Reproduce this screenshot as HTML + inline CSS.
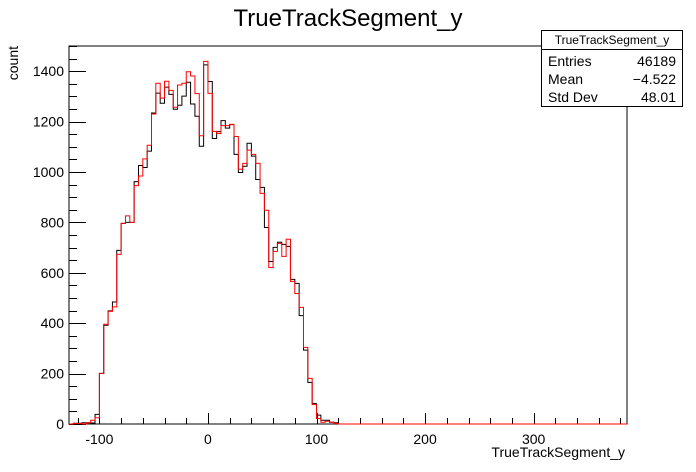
<!DOCTYPE html>
<html><head><meta charset="utf-8"><style>
body{margin:0;background:#fff}
svg{display:block;font-family:"Liberation Sans",Arial,sans-serif}
</style></head><body>
<svg id="c" width="696" height="472" viewBox="0 0 696 472">
<rect x="0" y="0" width="696" height="472" fill="#fff"/>
<text x="348" y="26" font-size="24" text-anchor="middle">TrueTrackSegment_y</text>
<rect x="69" y="46" width="558" height="378" fill="none" stroke="#000" stroke-width="1"/>
<g id="ticks"></g>
<g id="series"></g>
<text x="625" y="457" font-size="14" text-anchor="end">TrueTrackSegment_y</text>
<text x="0" y="0" font-size="14" text-anchor="end" transform="translate(18,46) rotate(-90)">count</text>
<g>
<rect x="541.5" y="30.5" width="141" height="76" fill="#fff" stroke="#000"/>
<line x1="541.5" y1="49.5" x2="682.5" y2="49.5" stroke="#000"/>
<text x="612" y="44" font-size="12" text-anchor="middle">TrueTrackSegment_y</text>
<text x="548" y="66" font-size="14">Entries</text>
<text x="676" y="66" font-size="14" text-anchor="end">46189</text>
<text x="548" y="84" font-size="14">Mean</text>
<text x="676" y="84" font-size="14" text-anchor="end">−4.522</text>
<text x="548" y="102" font-size="14">Std Dev</text>
<text x="676" y="102" font-size="14" text-anchor="end">48.01</text>
</g>
</svg>
<script>
const binStart = -128;
const binWidth = 4;
const blackCounts = [0,3,3,5,5,4,38,201,392,449,484,689,796,800,800,962,1026,1018,1083,1234,1313,1273,1337,1308,1249,1265,1301,1356,1270,1221,1102,1425,
1359,1133,1160,1204,1174,1188,1070,998,1023,1114,1063,970,939,780,645,701,721,713,705,574,558,430,293,165,81,35,15,15,7,5,0];
const redCounts = [0,2,2,0,5,15,25,201,396,447,465,673,796,826,800,946,984,1052,1106,1230,1352,1293,1360,1324,1257,1345,1352,1398,1381,1311,1144,1439,
1312,1161,1153,1184,1184,1189,1141,1011,1034,1087,1070,1034,915,848,621,685,717,665,733,566,518,463,304,181,77,22,7,11,7,2,0];
const yTickLabels = [0,200,400,600,800,1000,1200,1400];
const xTickLabels = [-100,0,100,200,300];
const xMin=-128, xMax=386, yMin=0, yMax=1500;
const L=69,R=627,T=46,B=424;
const sx=v=>L+(v-xMin)/(xMax-xMin)*(R-L);
const sy=v=>B-(v-yMin)/(yMax-yMin)*(B-T);
const NS="http://www.w3.org/2000/svg";
const ticks=document.getElementById('ticks');
function ln(x1,y1,x2,y2){const l=document.createElementNS(NS,'line');l.setAttribute('x1',x1);l.setAttribute('y1',y1);l.setAttribute('x2',x2);l.setAttribute('y2',y2);l.setAttribute('stroke','#000');return l;}
for(let v=0;v<=1500;v+=50){const y=Math.round(sy(v))+0.5;const major=v%200===0;const l=ln(L,y,L+(major?17:8),y);


ticks.appendChild(l);}
yTickLabels.forEach(v=>{const t=document.createElementNS(NS,'text');t.setAttribute('x',L-5);t.setAttribute('y',sy(v)+5);t.setAttribute('font-size','14');t.setAttribute('text-anchor','end');t.textContent=v;


ticks.appendChild(t);});
for(let v=-120;v<=380;v+=20){const x=Math.round(sx(v))+0.5;const major=v%100===0;const l=ln(x,B,x,B-(major?11:6));


ticks.appendChild(l);}
xTickLabels.forEach(v=>{const t=document.createElementNS(NS,'text');t.setAttribute('x',sx(v));t.setAttribute('y',B+20);t.setAttribute('font-size','14');t.setAttribute('text-anchor','middle');t.textContent=v;


ticks.appendChild(t);});
function stepPath(counts){let d='M'+sx(binStart)+','+sy(0);counts.forEach((c,i)=>{const x0=sx(binStart+i*binWidth),x1=sx(binStart+(i+1)*binWidth),y=sy(c);d+=' L'+x0+','+y+' L'+x1+','+y;});d+=' L'+sx(binStart+counts.length*binWidth)+','+sy(0)+' L'+R+','+sy(0);return d;}
const g=document.getElementById('series');
const p1=document.createElementNS(NS,'path');p1.setAttribute('d',stepPath(blackCounts));p1.setAttribute('fill','none');p1.setAttribute('stroke','#000');p1.setAttribute('stroke-width','1');


g.appendChild(p1);
const p2=document.createElementNS(NS,'path');p2.setAttribute('d',stepPath(redCounts));p2.setAttribute('fill','none');p2.setAttribute('stroke','#f00');p2.setAttribute('stroke-width','1');


g.appendChild(p2);
</script>
</body></html>
